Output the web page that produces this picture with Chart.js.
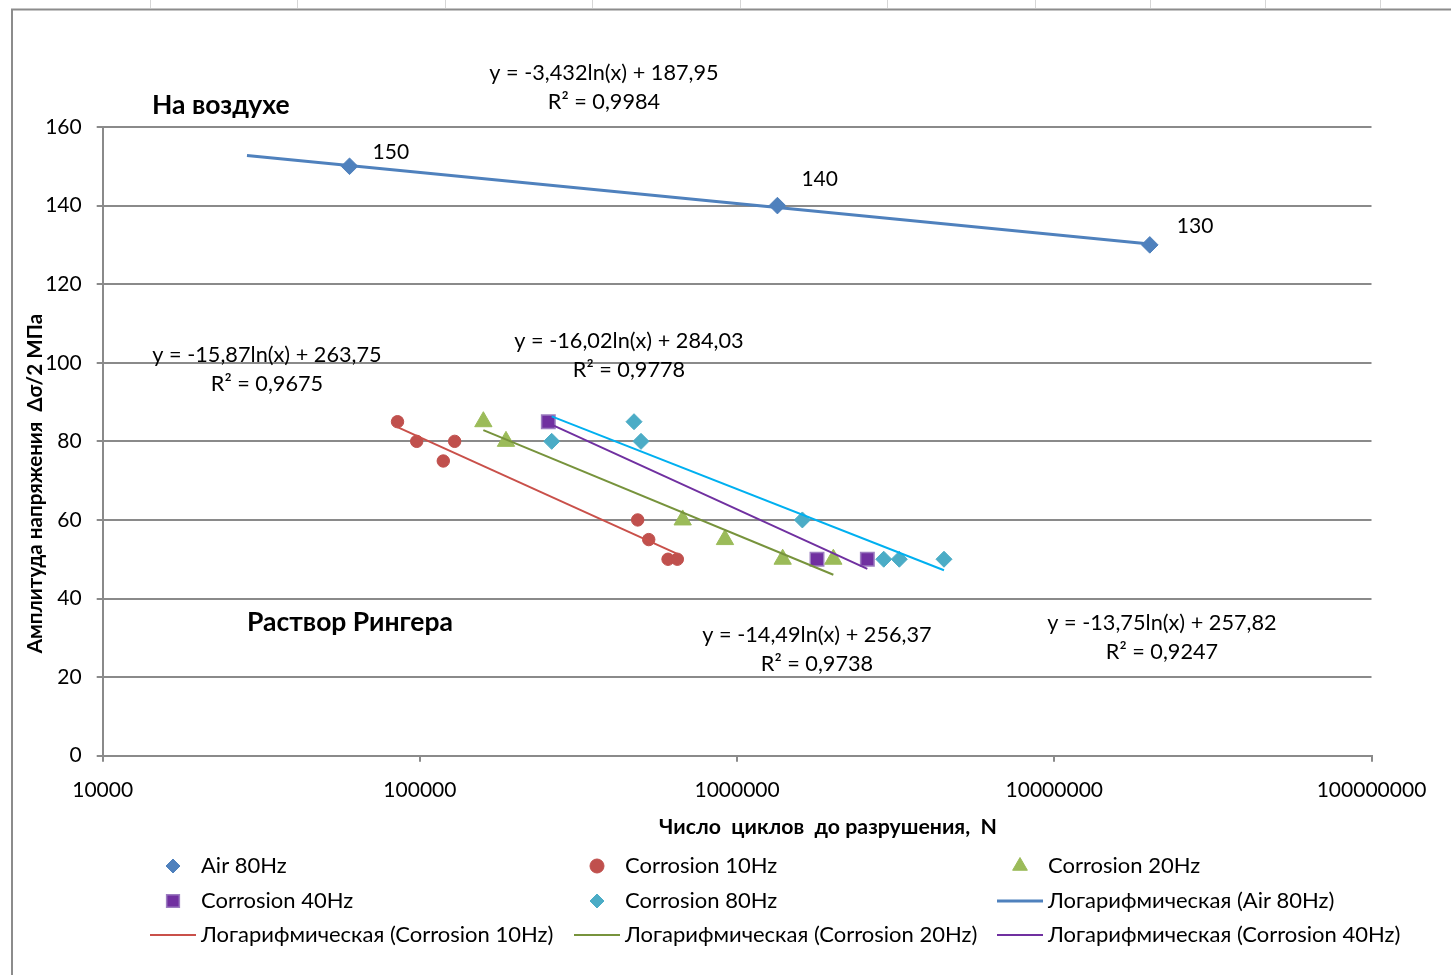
<!DOCTYPE html>
<html>
<head>
<meta charset="utf-8">
<script src="https://cdn.jsdelivr.net/npm/chart.js@4.4.1/dist/chart.umd.min.js"></script>
<style>
  html, body { margin: 0; padding: 0; background: #fff; overflow: hidden; }
  #wrap { position: relative; width: 1451px; height: 975px; }
  canvas { position: absolute; left: 0; top: 0; }
</style>
</head>
<body>
<div id="wrap"><canvas id="c" width="1451" height="975"></canvas></div>
<script>
// Fatigue test results: cycles to failure N and stress amplitude (MPa)
const airCycles = [60000, 1340000, 20000000];
const airStress = [150, 140, 130];
const c10Cycles = [85000, 97700, 128700, 118500, 486000, 526500, 605700, 648000];
const c10Stress = [85, 80, 80, 75, 60, 55, 50, 50];
const c20Cycles = [158500, 186800, 673700, 915700, 1392000, 2011000];
const c20Stress = [85, 80, 60, 55, 50, 50];
const c40Cycles = [254000, 1786000, 2574000];
const c40Stress = [85, 50, 50];
const c80Cycles = [260300, 473200, 497800, 1606000, 2899000, 3246000, 4490000];
const c80Stress = [80, 85, 80, 60, 50, 50, 50];

// Logarithmic trend fits y = a*ln(x) + b, in series order Air, 10, 20, 40, 80 Hz
const trendSlopes = [-3.432, -15.87, -14.49, -16.02, -13.75];
const trendIntercepts = [187.95, 263.75, 256.37, 284.03, 257.82];
const trendR2 = [0.9984, 0.9675, 0.9738, 0.9778, 0.9247];
const trendFrom = [28500, 85000, 158500, 254000, 260300];
const trendTo = [20000000, 648000, 2011000, 2574000, 4490000];

const seriesNames = ['Air 80Hz', 'Corrosion 10Hz', 'Corrosion 20Hz', 'Corrosion 40Hz', 'Corrosion 80Hz'];
const xTicks = [10000, 100000, 1000000, 10000000, 100000000];
const yTicks = [0, 20, 40, 60, 80, 100, 120, 140, 160];

const FONT = 'Lato, "Open Sans", sans-serif';
const GRID = '#8a8a8a';

const pts = (xs, ys) => xs.map((x, i) => ({ x, y: ys[i] }));
const trendPts = i => [trendFrom[i], trendTo[i]].map(x => ({ x, y: trendSlopes[i] * Math.log(x) + trendIntercepts[i] }));
const fmt = v => String(v).replace('.', ',');

const markerStyles = [
  { pointStyle: 'rectRot', pointRadius: 8.3, bg: '#4F81BD', border: '#4F81BD', bw: 1 },
  { pointStyle: 'circle', pointRadius: 6.2, bg: '#C0504D', border: '#C0504D', bw: 1 },
  { pointStyle: 'triangle', pointRadius: 10, bg: '#9BBB59', border: '#9BBB59', bw: 1 },
  { pointStyle: 'rect', pointRadius: 9.5, bg: '#7030A0', border: '#9C7DC0', bw: 1.5 },
  { pointStyle: 'rectRot', pointRadius: 8, bg: '#4BACC6', border: '#4BACC6', bw: 1 }
];
const trendStyles = [
  { color: '#4F81BD', width: 3 },
  { color: '#C9504A', width: 2 },
  { color: '#77933C', width: 2 },
  { color: '#7030A0', width: 2 },
  { color: '#00B0F0', width: 2 }
];

const seriesData = [
  pts(airCycles, airStress), pts(c10Cycles, c10Stress), pts(c20Cycles, c20Stress),
  pts(c40Cycles, c40Stress), pts(c80Cycles, c80Stress)
];

const datasets = [];
seriesData.forEach((d, i) => {
  const m = markerStyles[i];
  datasets.push({
    label: seriesNames[i], data: d, order: 1,
    pointStyle: m.pointStyle, pointRadius: m.pointRadius,
    backgroundColor: m.bg, borderColor: m.border, borderWidth: m.bw,
    showLine: false
  });
});
seriesData.forEach((d, i) => {
  const t = trendStyles[i];
  datasets.push({
    label: 'Логарифмическая (' + seriesNames[i] + ')', data: trendPts(i), order: 0,
    showLine: true, pointRadius: 0, borderColor: t.color, borderWidth: t.width,
    backgroundColor: t.color, fill: false
  });
});

function drawMarker(ctx, style, x, y, r, fill, stroke, bw) {
  ctx.save();
  ctx.beginPath();
  if (style === 'circle') {
    ctx.arc(x, y, r, 0, Math.PI * 2);
  } else if (style === 'rectRot') {
    ctx.moveTo(x - r, y); ctx.lineTo(x, y - r); ctx.lineTo(x + r, y); ctx.lineTo(x, y + r);
    ctx.closePath();
  } else if (style === 'triangle') {
    ctx.moveTo(x, y - r); ctx.lineTo(x + r * 0.866, y + r * 0.5); ctx.lineTo(x - r * 0.866, y + r * 0.5);
    ctx.closePath();
  } else {
    const s = r * Math.SQRT1_2;
    ctx.rect(x - s, y - s, 2 * s, 2 * s);
  }
  ctx.fillStyle = fill; ctx.fill();
  ctx.lineWidth = bw; ctx.strokeStyle = stroke; ctx.stroke();
  ctx.restore();
}

// White sheet, cell grid above and chart frame
const framePlugin = {
  id: 'frame',
  beforeDraw(chart) {
    const ctx = chart.ctx;
    ctx.save();
    ctx.fillStyle = '#fff';
    ctx.fillRect(0, 0, chart.width, chart.height);
    ctx.strokeStyle = '#d6d6d6';
    ctx.lineWidth = 1;
    [150, 297, 445, 592, 740, 887, 1035, 1150, 1265, 1380].forEach(x => {
      ctx.beginPath(); ctx.moveTo(x + 0.5, 0); ctx.lineTo(x + 0.5, 8); ctx.stroke();
    });
    ctx.strokeStyle = '#8c8c8c';
    ctx.lineWidth = 2;
    ctx.beginPath();
    ctx.moveTo(12, chart.height); ctx.lineTo(12, 9.5); ctx.lineTo(chart.width, 9.5);
    ctx.stroke();
    ctx.restore();
  }
};

// Texts: value labels, trend equations, titles and legend
const textPlugin = {
  id: 'texts',
  afterDraw(chart) {
    const ctx = chart.ctx;
    ctx.save();
    ctx.fillStyle = '#000';
    ctx.textBaseline = 'middle';

    // value labels for the air series
    const airMeta = chart.getDatasetMeta(0);
    const labelOffsets = [[23, -14], [24, -26], [27, -19]];
    ctx.font = '21px ' + FONT;
    ctx.textAlign = 'left';
    airMeta.data.forEach((el, i) => {
      ctx.fillText(String(airStress[i]), el.x + labelOffsets[i][0], el.y + labelOffsets[i][1]);
    });

    // trend equations
    const eqPos = [[604, 73], [267, 355], [817, 635], [629, 341], [1162, 623]];
    ctx.font = '21.7px ' + FONT;
    ctx.textAlign = 'center';
    trendSlopes.forEach((a, i) => {
      const [x, y] = eqPos[i];
      ctx.fillText('y = ' + fmt(a) + 'ln(x) + ' + fmt(trendIntercepts[i]), x, y);
      ctx.fillText('R² = ' + fmt(trendR2[i]), x, y + 29);
    });

    // group captions
    ctx.font = 'bold 26.5px ' + FONT;
    ctx.textAlign = 'left';
    ctx.fillText('На воздухе', 152, 105);
    ctx.fillText('Раствор Рингера', 247, 622);

    // axis titles
    ctx.font = 'bold 21.3px ' + FONT;
    ctx.textAlign = 'center';
    ctx.fillText('Число  циклов  до разрушения,  N', 828, 827);
    ctx.save();
    ctx.translate(35, 483.5);
    ctx.rotate(-Math.PI / 2);
    ctx.font = 'bold 20.6px ' + FONT;
    ctx.fillText('Амплитуда напряжения  Δσ/2 МПа', 0, 0);
    ctx.restore();

    // legend: 3 columns
    const colMarker = [173, 597, 1020];
    const colText = [201, 625, 1048];
    const rowY = [866, 901, 935];
    const legendOrder = [0, 1, 2, 3, 4, 5, 6, 7, 8];
    ctx.font = '22px ' + FONT;
    ctx.textAlign = 'left';
    legendOrder.forEach((di, k) => {
      const ds = chart.data.datasets[di];
      const col = k % 3, row = Math.floor(k / 3);
      const mx = colMarker[col], y = rowY[row];
      if (ds.showLine) {
        ctx.save();
        ctx.strokeStyle = ds.borderColor; ctx.lineWidth = ds.borderWidth;
        ctx.beginPath(); ctx.moveTo(mx - 23, y); ctx.lineTo(mx + 23, y); ctx.stroke();
        ctx.restore();
      } else {
        const m = markerStyles[di];
        const r = m.pointStyle === 'triangle' ? 8.5 : (m.pointStyle === 'rect' ? 9 : 7);
        drawMarker(ctx, m.pointStyle, mx, y, r, m.bg, m.border, m.bw);
      }
      ctx.fillStyle = '#000';
      ctx.fillText(ds.label, colText[col], y);
    });
    ctx.restore();
  }
};

Chart.defaults.font.family = FONT;
Chart.defaults.font.size = 21;
Chart.defaults.color = '#000';

new Chart(document.getElementById('c'), {
  type: 'scatter',
  data: { datasets },
  options: {
    responsive: false,
    animation: false,
    devicePixelRatio: 1,
    layout: { padding: { top: 127, right: 79.5, bottom: 0, left: 0 } },
    plugins: { legend: { display: false }, tooltip: { enabled: false } },
    scales: {
      x: {
        type: 'logarithmic', position: 'bottom', min: 10000, max: 100000000,
        afterBuildTicks: s => { s.ticks = xTicks.map(v => ({ value: v })); },
        afterFit: s => { s.height = 219.3; },
        ticks: { callback: v => String(v), padding: 16, maxRotation: 0, autoSkip: false },
        grid: { drawOnChartArea: false, drawTicks: true, tickLength: 6, color: GRID, lineWidth: 2 },
        border: { display: true, color: GRID, width: 2 }
      },
      y: {
        type: 'linear', min: 0, max: 160,
        afterBuildTicks: s => { s.ticks = yTicks.map(v => ({ value: v })); },
        afterFit: s => { s.width = 102.7; },
        ticks: { padding: 15 },
        grid: { drawTicks: true, tickLength: 6, color: GRID, lineWidth: 2 },
        border: { display: true, color: GRID, width: 2 }
      }
    }
  },
  plugins: [framePlugin, textPlugin]
});
</script>
</body>
</html>
